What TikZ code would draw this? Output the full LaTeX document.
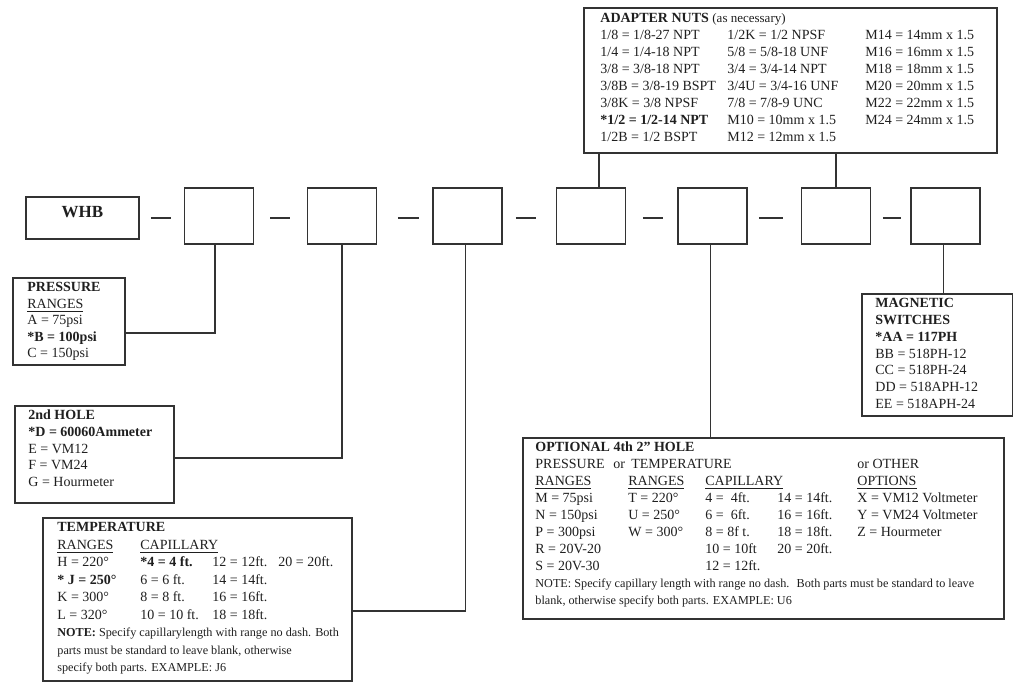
\documentclass[tikz,border=0pt]{standalone}
\usepackage{fontspec}
\setmainfont{Liberation Serif}
\newlength{\du}
\setlength{\du}{0.5pt}
\definecolor{inkcolor}{rgb}{0.200000, 0.200000, 0.200000}
\definecolor{printcolor}{rgb}{0.120000, 0.120000, 0.120000}
\newcommand{\notesize}{\fontsize{6.1}{8.5}\selectfont}
\tikzset{
  partbox/.style={draw=inkcolor, line width=1.8\du, minimum width=69\du, minimum height=56\du, inner sep=0pt},
  infobox/.style={draw=inkcolor, line width=1.8\du, anchor=north west, inner sep=0pt},
  infotext/.style={anchor=base west, inner sep=0pt, text=printcolor, font=\fontsize{7}{8.5}\selectfont},
  wire/.style={draw=inkcolor, line width=1.8\du}
}

\begin{document}
\begin{tikzpicture}
\pgftransformxscale{1.000000}
\pgftransformyscale{-1.000000}
\useasboundingbox (0\du,0\du) rectangle (1013\du,683\du);
% part number row
\node[partbox, minimum width=113\du, minimum height=42\du] (whb) at (82.5\du,218\du) {};
\node[anchor=center, inner sep=0pt, text=printcolor, font=\fontsize{8.5}{10}\selectfont\bfseries] (whbtext) at (82.5\du,212\du) {WHB};
\node[partbox] (p1) at (219\du,216\du) {};
\node[partbox] (p2) at (342\du,216\du) {};
\node[partbox] (p3) at (467.5\du,216\du) {};
\node[partbox] (p4) at (591\du,216\du) {};
\node[partbox] (p5) at (712.5\du,216\du) {};
\node[partbox] (p6) at (836\du,216\du) {};
\node[partbox] (p7) at (945.5\du,216\du) {};
\draw[wire, shorten <=11\du, shorten >=13\du] (whb.east) -- (p1.west |- whb.east);
\draw[wire, shorten <=16\du, shorten >=17\du] (p1.east |- whb.east) -- (p2.west |- whb.east);
\draw[wire, shorten <=20.5\du, shorten >=13.5\du] (p2.east |- whb.east) -- (p3.west |- whb.east);
\draw[wire, shorten <=13\du, shorten >=19.5\du] (p3.east |- whb.east) -- (p4.west |- whb.east);
\draw[wire, shorten <=16.5\du, shorten >=14\du] (p4.east |- whb.east) -- (p5.west |- whb.east);
\draw[wire, shorten <=11\du, shorten >=17.5\du] (p5.east |- whb.east) -- (p6.west |- whb.east);
\draw[wire, shorten <=11.5\du, shorten >=9\du] (p6.east |- whb.east) -- (p7.west |- whb.east);

% adapter nuts
\node[infobox, minimum width=413\du, minimum height=145\du] (adapter) at (583\du,7\du) {};
\node[infotext] (adaptertext) at (600\du,22.5\du) {\begin{tabular}[t]{@{}p{63.5pt}@{}p{69pt}@{}l@{}}
\multicolumn{3}{@{}l@{}}{\textbf{ADAPTER NUTS} {\fontsize{6.5}{8}\selectfont(as necessary)}}\\
1/8 = 1/8-27 NPT & 1/2K = 1/2 NPSF & M14 = 14mm x 1.5\\
1/4 = 1/4-18 NPT & 5/8 = 5/8-18 UNF & M16 = 16mm x 1.5\\
3/8 = 3/8-18 NPT & 3/4 = 3/4-14 NPT & M18 = 18mm x 1.5\\
3/8B = 3/8-19 BSPT & 3/4U = 3/4-16 UNF & M20 = 20mm x 1.5\\
3/8K = 3/8 NPSF & 7/8 = 7/8-9 UNC & M22 = 22mm x 1.5\\
\textbf{*1/2 = 1/2-14 NPT} & M10 = 10mm x 1.5 & M24 = 24mm x 1.5\\
1/2B = 1/2 BSPT & M12 = 12mm x 1.5 &
\end{tabular}};
\draw[wire] ([xshift=8\du]p4.north) coordinate (p4top) -- (p4top |- adapter.south);
\draw[wire] (p6.north) -- (p6.north |- adapter.south);

% pressure
\node[infobox, minimum width=112\du, minimum height=87\du] (pressure) at (12\du,277\du) {};
\node[infotext] (pressuretext) at (27\du,291.6\du) {\renewcommand{\arraystretch}{0.97}\begin{tabular}[t]{@{}l@{}}
\textbf{PRESSURE}\\
\underline{RANGES}\\
A = 75psi\\
\textbf{*B = 100psi}\\
C = 150psi
\end{tabular}};
\draw[wire] ([xshift=-4\du]p1.south) |- (pressure.east |- 0,333\du);

% 2nd hole
\node[infobox, minimum width=159\du, minimum height=97\du] (hole) at (14\du,405\du) {};
\node[infotext] (holetext) at (28\du,419.6\du) {\renewcommand{\arraystretch}{0.985}\begin{tabular}[t]{@{}l@{}}
\textbf{2nd HOLE}\\
\textbf{*D = 60060Ammeter}\\
E = VM12\\
F = VM24\\
G = Hourmeter
\end{tabular}};
\draw[wire] (p2.south) |- (hole.east |- 0,458\du);

% temperature
\node[infobox, minimum width=309\du, minimum height=163\du] (temp) at (42\du,517\du) {};
\node[infotext] (temptext) at (57\du,531.6\du) {\renewcommand{\arraystretch}{1.03}\begin{tabular}[t]{@{}p{41.5pt}@{}p{36pt}@{}p{33pt}@{}l@{}}
\multicolumn{4}{@{}l@{}}{\textbf{TEMPERATURE}}\\
\underline{RANGES} & \multicolumn{3}{@{}l@{}}{\underline{CAPILLARY}}\\
H = 220° & \textbf{*4 = 4 ft.} & 12 = 12ft. & 20 = 20ft.\\
\textbf{* J = 250°} & 6 = 6 ft. & 14 = 14ft. &\\
K = 300° & 8 = 8 ft. & 16 = 16ft. &\\
L = 320° & 10 = 10 ft. & 18 = 18ft. &\\
\multicolumn{4}{@{}l@{}}{\notesize\textbf{NOTE:} Specify capillarylength with range no dash. Both}\\
\multicolumn{4}{@{}l@{}}{\notesize parts must be standard to leave blank, otherwise}\\
\multicolumn{4}{@{}l@{}}{\notesize specify both parts. EXAMPLE: J6}
\end{tabular}};
\draw[wire] ([xshift=-2\du]p3.south) |- (temp.east |- 0,611\du);

% optional 4th hole
\node[infobox, minimum width=481\du, minimum height=181\du] (opt) at (522\du,437\du) {};
\node[infotext] (opttext) at (535\du,451.6\du) {\begin{tabular}[t]{@{}p{46.5pt}@{}p{38.5pt}@{}p{36pt}@{}p{40pt}@{}l@{}}
\multicolumn{5}{@{}l@{}}{\textbf{OPTIONAL 4th 2” HOLE}}\\
\multicolumn{4}{@{}l@{}}{\makebox[39pt][l]{PRESSURE}\makebox[9pt][l]{or}TEMPERATURE} & or OTHER\\
\underline{RANGES} & \underline{RANGES} & \multicolumn{2}{@{}l@{}}{\underline{CAPILLARY}} & \underline{OPTIONS}\\
M = 75psi & T = 220° & 4 = \ 4ft. & 14 = 14ft. & X = VM12 Voltmeter\\
N = 150psi & U = 250° & 6 = \ 6ft. & 16 = 16ft. & Y = VM24 Voltmeter\\
P = 300psi & W = 300° & 8 = 8f t. & 18 = 18ft. & Z = Hourmeter\\
R = 20V-20 & & 10 = 10ft & 20 = 20ft. &\\
S = 20V-30 & & 12 = 12ft. & &\\
\multicolumn{5}{@{}l@{}}{\notesize NOTE: Specify capillary length with range no dash. \ Both parts must be standard to leave}\\
\multicolumn{5}{@{}l@{}}{\notesize blank, otherwise specify both parts. EXAMPLE: U6}
\end{tabular}};
\draw[wire] ([xshift=-2\du]p5.south) coordinate (p5bot) -- (p5bot |- opt.north);

% magnetic switches
\node[infobox, minimum width=151\du, minimum height=122\du] (mag) at (861\du,293\du) {};
\node[infotext] (magtext) at (875\du,307.6\du) {\renewcommand{\arraystretch}{0.99}\begin{tabular}[t]{@{}l@{}}
\textbf{MAGNETIC}\\
\textbf{SWITCHES}\\
\textbf{*AA = 117PH}\\
BB = 518PH-12\\
CC = 518PH-24\\
DD = 518APH-12\\
EE = 518APH-24
\end{tabular}};
\draw[wire] ([xshift=-2\du]p7.south) coordinate (p7bot) -- (p7bot |- mag.north);
\end{tikzpicture}
\end{document}
